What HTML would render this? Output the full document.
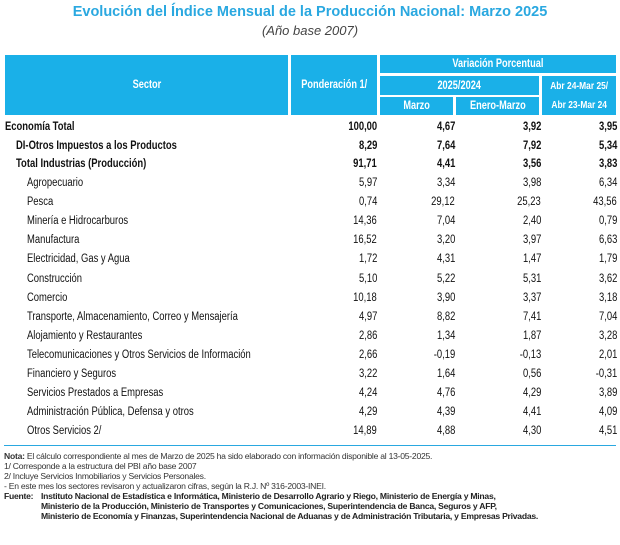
<!DOCTYPE html>
<html><head><meta charset="utf-8">
<style>
body{margin:0;width:620px;height:545px;background:#fff;position:relative;overflow:hidden;font-family:"Liberation Sans",sans-serif;color:#111}
.a{position:absolute;white-space:nowrap}
.h{position:absolute;background:#1ab0e8;color:#fff;display:flex;align-items:center;justify-content:center;font-size:11.5px;font-weight:bold}
.h span{display:inline-block;transform:scaleX(0.8);white-space:nowrap;text-align:center}
.n{position:absolute;text-align:right;font-size:11.5px;white-space:nowrap;transform:scaleX(0.82);transform-origin:right center}
.s{position:absolute;font-size:11.5px;white-space:nowrap;transform:scaleX(0.82);transform-origin:left center}
.note{position:absolute;left:4px;font-size:8.6px;color:#333;white-space:nowrap;letter-spacing:-0.25px}
</style></head><body>
<div class="a" style="left:0;width:620px;text-align:center;top:4px;font-size:14.5px;font-weight:bold;color:#2aa8e0">Evolución del Índice Mensual de la Producción Nacional: Marzo 2025</div>
<div class="a" style="left:0;width:620px;text-align:center;top:23px;font-size:13px;font-style:italic;color:#444">(Año base 2007)</div>

<div class="h" style="left:5px;top:55px;width:283px;height:60px"><span>Sector</span></div>
<div class="h" style="left:291px;top:55px;width:86px;height:60px"><span>Ponderación 1/</span></div>
<div class="h" style="left:380px;top:55px;width:236px;height:18px"><span>Variación Porcentual</span></div>
<div class="h" style="left:380px;top:76px;width:159px;height:19px"><span>2025/2024</span></div>
<div class="h" style="left:542px;top:76px;width:74px;height:39px;font-size:10.5px;line-height:19px"><span>Abr 24-Mar 25/<br>Abr 23-Mar 24</span></div>
<div class="h" style="left:380px;top:97px;width:73px;height:18px"><span>Marzo</span></div>
<div class="h" style="left:456px;top:97px;width:83px;height:18px"><span>Enero-Marzo</span></div>

<div id="rows"></div>
<div class="a" style="left:4px;top:445px;width:612px;height:1px;background:#2aa8e0"></div>

<div class="note" style="top:451px"><b>Nota:</b> El cálculo correspondiente al mes de Marzo de 2025 ha sido elaborado con información disponible al 13-05-2025.</div>
<div class="note" style="top:461px">1/ Corresponde a la estructura del PBI año base 2007</div>
<div class="note" style="top:471px">2/ Incluye Servicios Inmobiliarios y Servicios Personales.</div>
<div class="note" style="top:481px">- En este mes los sectores revisaron y actualizaron cifras, según la R.J. Nº 316-2003-INEI.</div>
<div class="note" style="top:491px;font-weight:bold;color:#222">Fuente:</div>
<div class="note" style="top:491px;left:41px;font-weight:bold;color:#222">Instituto Nacional de Estadística e Informática, Ministerio de Desarrollo Agrario y Riego, Ministerio de Energía y Minas,</div>
<div class="note" style="top:501px;left:41px;font-weight:bold;color:#222">Ministerio de la Producción, Ministerio de Transportes y Comunicaciones, Superintendencia de Banca, Seguros y AFP,</div>
<div class="note" style="top:511px;left:41px;font-weight:bold;color:#222">Ministerio de Economía y Finanzas, Superintendencia Nacional de Aduanas y de Administración Tributaria, y Empresas Privadas.</div>

<script>
const sectors=["Economía Total","DI-Otros Impuestos a los Productos","Total  Industrias (Producción)","Agropecuario","Pesca","Minería e Hidrocarburos","Manufactura","Electricidad, Gas y Agua","Construcción","Comercio","Transporte, Almacenamiento, Correo y Mensajería","Alojamiento y Restaurantes","Telecomunicaciones y Otros Servicios de Información","Financiero y Seguros","Servicios Prestados a Empresas","Administración Pública, Defensa y otros","Otros Servicios 2/"];
const ponderacion=["100,00","8,29","91,71","5,97","0,74","14,36","16,52","1,72","5,10","10,18","4,97","2,86","2,66","3,22","4,24","4,29","14,89"];
const marzo=["4,67","7,64","4,41","3,34","29,12","7,04","3,20","4,31","5,22","3,90","8,82","1,34","-0,19","1,64","4,76","4,39","4,88"];
const eneroMarzo=["3,92","7,92","3,56","3,98","25,23","2,40","3,97","1,47","5,31","3,37","7,41","1,87","-0,13","0,56","4,29","4,41","4,30"];
const anual=["3,95","5,34","3,83","6,34","43,56","0,79","6,63","1,79","3,62","3,18","7,04","3,28","2,01","-0,31","3,89","4,09","4,51"];
const tops=[121,140,158];
const c=document.getElementById('rows');
for(let i=0;i<sectors.length;i++){
  const top=i<3?tops[i]:177+(i-3)*19.1;
  const bold=i<3;const indent=i==0?5:(i<3?16:27);
  const s=document.createElement('div');s.className='s';
  
  
  s.style.cssText=`left:${indent}px;top:${top}px;font-weight:${bold?'bold':'normal'}`;s.textContent=sectors[i];c.appendChild(s);
  const cols=[[ponderacion,377],[marzo,455],[eneroMarzo,541],[anual,617]];
  cols.forEach(([arr,r],j)=>{const d=document.createElement('div');d.className='n';
    
    
    d.style.cssText=`right:${620-r}px;top:${top}px;font-weight:${bold?'bold':'normal'}`;d.textContent=arr[i];c.appendChild(d);});
}
</script>
</body></html>
